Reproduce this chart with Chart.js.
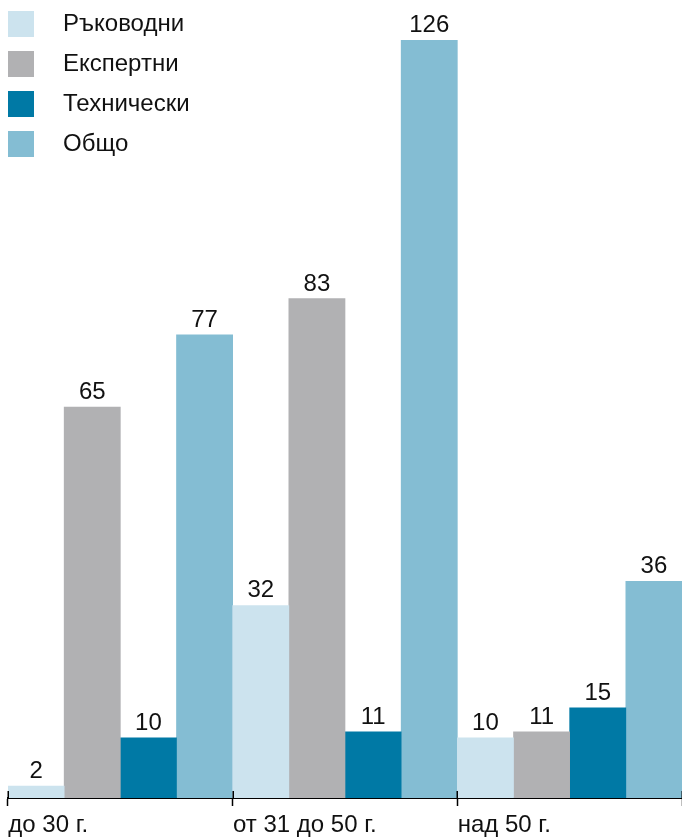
<!DOCTYPE html>
<html lang="bg">
<head>
<meta charset="utf-8">
<title>Персонал по възраст</title>
<script src="https://cdn.jsdelivr.net/npm/chart.js@4.4.1/dist/chart.umd.min.js"></script>
<style>
  html, body { margin: 0; padding: 0; background: #fff; }
  #wrap { position: relative; width: 682px; height: 837px; }
</style>
</head>
<body>
<div id="wrap"><canvas id="ageChart"></canvas></div>
<script>
// age groups on the x axis
const categories = ['до 30 г.', 'от 31 до 50 г.', 'над 50 г.'];

// staff counts per group
const seriesNames = ['Ръководни', 'Експертни', 'Технически', 'Общо'];
const rakovodni = [2, 32, 10];
const ekspertni = [65, 83, 11];
const tehnicheski = [10, 11, 15];
const obshto = [77, 126, 36];

const seriesColors = ['#cce3ee', '#b1b1b3', '#0079a5', '#84bdd3'];

const FONT = "'Liberation Sans', Arial, sans-serif";
const FONT_SIZE = 24;

const seriesValues = [rakovodni, ekspertni, tehnicheski, obshto];

const datasets = seriesNames.map((name, i) => ({
    label: name,
    data: seriesValues[i],
    backgroundColor: seriesColors[i],
    borderWidth: 0,
    barPercentage: 1,
    categoryPercentage: 1
}));

// numbers above each bar
const valueLabels = {
    id: 'valueLabels',
    afterDatasetsDraw(chart) {
        const ctx = chart.ctx;
        ctx.save();
        ctx.font = FONT_SIZE + 'px ' + FONT;
        ctx.fillStyle = '#111';
        ctx.textAlign = 'center';
        ctx.textBaseline = 'alphabetic';
        chart.data.datasets.forEach((ds, di) => {
            const meta = chart.getDatasetMeta(di);
            meta.data.forEach((bar, i) => {
                ctx.fillText(String(ds.data[i]), bar.x, bar.y - 8);
            });
        });
        ctx.restore();
    }
};

// tick marks cross the axis line, so add the part above it
const crossTicks = {
    id: 'crossTicks',
    afterDraw(chart) {
        const x = chart.scales.x;
        const ctx = chart.ctx;
        const step = x.width / categories.length;
        ctx.save();
        ctx.strokeStyle = '#000';
        ctx.lineWidth = 1.5;
        for (let i = 0; i <= categories.length; i++) {
            const px = Math.round(x.left + i * step) + 0.25;
            ctx.beginPath();
            ctx.moveTo(px, x.top - 7);
            ctx.lineTo(px, x.top);
            ctx.stroke();
        }
        ctx.restore();
    }
};

// legend stacked in the top left corner, over the plot
const cornerLegend = {
    id: 'cornerLegend',
    afterDraw(chart) {
        const ctx = chart.ctx;
        ctx.save();
        ctx.font = FONT_SIZE + 'px ' + FONT;
        ctx.textBaseline = 'middle';
        ctx.textAlign = 'left';
        chart.data.datasets.forEach((ds, i) => {
            const top = 11 + i * 40;
            ctx.fillStyle = ds.backgroundColor;
            ctx.fillRect(8, top, 26, 26);
            ctx.fillStyle = '#111';
            ctx.fillText(ds.label, 63, top + 13);
        });
        ctx.restore();
    }
};

const chart = new Chart(document.getElementById('ageChart'), {
    type: 'bar',
    data: { labels: categories, datasets: datasets },
    options: {
        responsive: true,
        maintainAspectRatio: false,
        animation: false,
        layout: { padding: { top: 40, left: 8, right: 0, bottom: 0 } },
        plugins: {
            legend: { display: false },
            tooltip: { enabled: false }
        },
        scales: {
            x: {
                offset: true,
                afterFit(scale) {
                    // fixed band for ticks and labels under the bars
                    scale.height = 39;
                },
                grid: {
                    offset: true,
                    drawOnChartArea: false,
                    drawTicks: true,
                    tickLength: 8,
                    tickWidth: 1.5,
                    tickColor: '#000'
                },
                border: { display: true, color: '#000', width: 2 },
                ticks: {
                    align: 'start',
                    labelOffset: -112,
                    padding: 7,
                    maxRotation: 0,
                    autoSkip: false,
                    color: '#111',
                    font: { family: FONT, size: FONT_SIZE, lineHeight: 1 }
                }
            },
            y: {
                display: false,
                min: 0,
                max: 126
            }
        }
    },
    plugins: [valueLabels, crossTicks, cornerLegend]
});
</script>
</body>
</html>
